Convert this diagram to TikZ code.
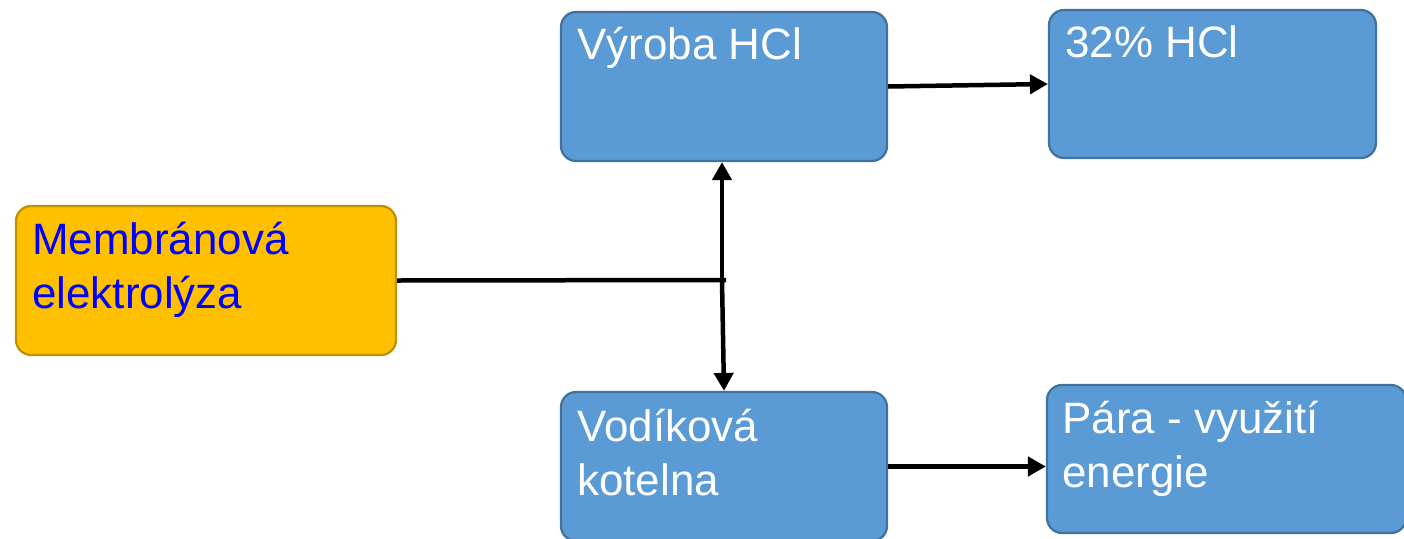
\documentclass[tikz,border=0pt]{standalone}
\usepackage{fontspec}
\setmainfont{Liberation Sans}
\usetikzlibrary{arrows.meta,calc}
\definecolor{boxblue}{HTML}{5B9BD5}
\definecolor{boxblueline}{HTML}{41719C}
\definecolor{boxorange}{HTML}{FFC000}
\definecolor{boxorangeline}{HTML}{BF9000}
\definecolor{txtblue}{HTML}{0000FF}
\tikzset{
  bluebox/.style={draw=boxblueline, fill=boxblue, line width=0.045cm, rounded corners=0.3cm, inner sep=0pt},
  orangebox/.style={draw=boxorangeline, fill=boxorange, line width=0.045cm, rounded corners=0.3cm, inner sep=0pt},
  lbl/.style={anchor=base west, inner sep=0pt, align=left, font=\fontsize{25}{30.5}\selectfont},
  wlbl/.style={lbl, text=white},
  blbl/.style={lbl, text=txtblue},
  conn/.style={line width=0.09cm, draw=black},
  arr/.style={conn, -{Triangle[length=0.36cm,width=0.38cm]}}
}
\begin{document}
\begin{tikzpicture}[x=0.02cm,y=-0.02cm]
\useasboundingbox (0,0) rectangle (1404,538);
\clip (0,0) rectangle (1404,538);
\node[orangebox, minimum width=7.6cm, minimum height=2.98cm] (mem) at (206,280.5) {};
\node[bluebox, minimum width=6.52cm, minimum height=2.98cm] (vyr) at (724,86.5) {};
\node[bluebox, minimum width=6.54cm, minimum height=2.96cm] (hcl) at (1212.5,84) {};
\node[bluebox, minimum width=6.52cm, minimum height=2.98cm] (vod) at (724,466.5) {};
\node[bluebox, minimum width=7.18cm, minimum height=2.96cm] (para) at (1226.5,459) {};

% base anchor of multi-line nodes is the baseline of the last line
\node[blbl] (tmem) at (32,308) {Membránová\\elektrolýza};
\node[wlbl] (tvyr) at (577,59) {Výroba HCl};
\node[wlbl] (thcl) at (1065,57) {32\% HCl};
\node[wlbl] (tvod) at (577,495) {Vodíková\\kotelna};
\node[wlbl] (tpara) at (1062,487) {Pára - využití\\energie};

\coordinate (j) at (722,280);
\coordinate (jr) at (726,280);
\draw[conn] (mem.east) -- (jr);
\draw[arr] (j) -- (vyr.south -| j);
\draw[arr] (j) -- (vod.north);
\draw[arr] (vyr.east) -- (hcl.west);
\draw[arr] (vod.east) -- (vod.east -| para.west);
\end{tikzpicture}
\end{document}
